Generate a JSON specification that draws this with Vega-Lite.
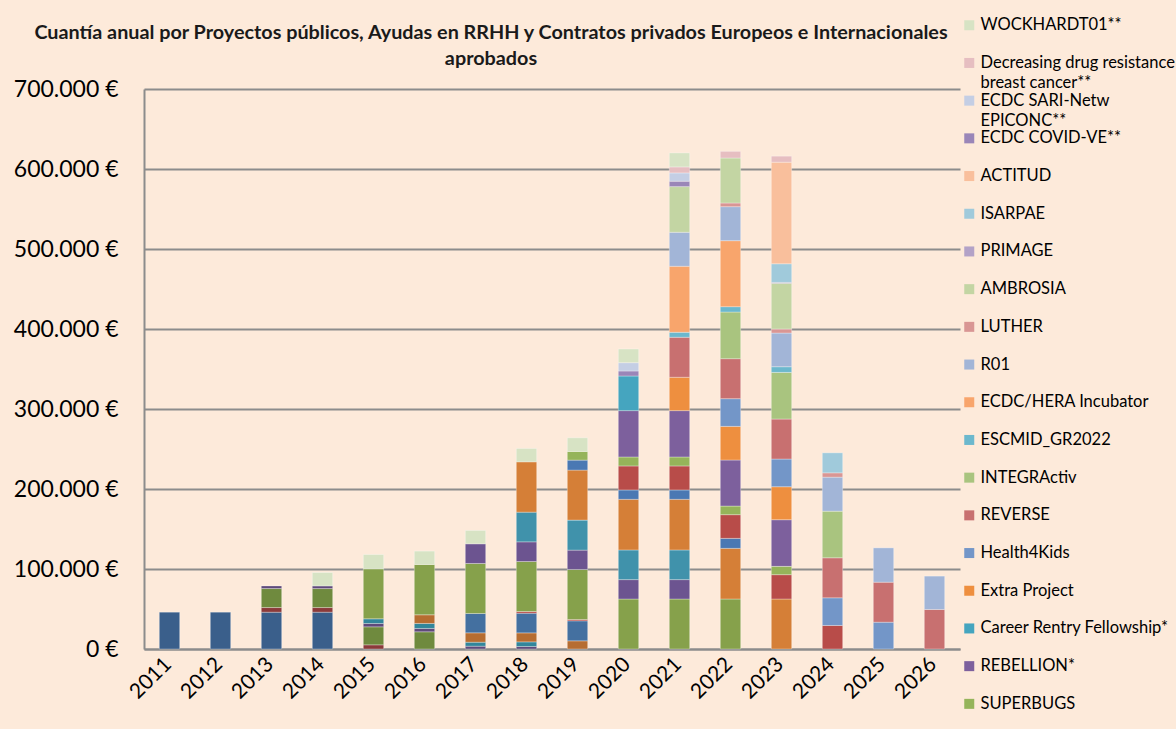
{
  "$schema": "https://vega.github.io/schema/vega-lite/v6.json",
  "width": 816,
  "height": 560,
  "autosize": {"type": "none"},
  "padding": {"left": 144, "top": 89, "right": 216, "bottom": 80},
  "background": "#FDEADA",
  "title": {
    "text": ["Cuantía anual por Proyectos públicos, Ayudas en RRHH y Contratos privados Europeos e Internacionales", "aprobados"],
    "font": "Lato",
    "fontSize": 19.8,
    "fontWeight": "bold",
    "color": "#1a1a1a",
    "anchor": "middle",
    "frame": "group",
    "dx": -61,
    "offset": -52,
    "lineHeight": 26
  },
  "datasets": {
    "proyectos": [
      {"proyecto": "Proyecto 01", "orden": 1},
      {"proyecto": "Proyecto 02", "orden": 2},
      {"proyecto": "Proyecto 03", "orden": 3},
      {"proyecto": "Proyecto 04", "orden": 4},
      {"proyecto": "Proyecto 05", "orden": 5},
      {"proyecto": "Proyecto 06", "orden": 6},
      {"proyecto": "Proyecto 07", "orden": 7},
      {"proyecto": "Proyecto 08", "orden": 8},
      {"proyecto": "Proyecto 09", "orden": 9},
      {"proyecto": "Proyecto 10", "orden": 10},
      {"proyecto": "Proyecto 11", "orden": 11},
      {"proyecto": "Proyecto 12", "orden": 12},
      {"proyecto": "Proyecto 13", "orden": 13},
      {"proyecto": "Proyecto 14", "orden": 14},
      {"proyecto": "SUPERBUGS", "orden": 15},
      {"proyecto": "REBELLION*", "orden": 16},
      {"proyecto": "Career Rentry Fellowship*", "orden": 17},
      {"proyecto": "Extra Project", "orden": 18},
      {"proyecto": "Health4Kids", "orden": 19},
      {"proyecto": "REVERSE", "orden": 20},
      {"proyecto": "INTEGRActiv", "orden": 21},
      {"proyecto": "ESCMID_GR2022", "orden": 22},
      {"proyecto": "ECDC/HERA Incubator", "orden": 23},
      {"proyecto": "R01", "orden": 24},
      {"proyecto": "LUTHER", "orden": 25},
      {"proyecto": "AMBROSIA", "orden": 26},
      {"proyecto": "PRIMAGE", "orden": 27},
      {"proyecto": "ISARPAE", "orden": 28},
      {"proyecto": "ACTITUD", "orden": 29},
      {"proyecto": "ECDC COVID-VE**", "orden": 30},
      {"proyecto": "ECDC SARI-Netw EPICONC**", "orden": 31},
      {"proyecto": "Decreasing drug resistance breast cancer**", "orden": 32},
      {"proyecto": "WOCKHARDT01**", "orden": 33}
    ],
    "importes": [
      {"anio": "2011", "proyecto": "Proyecto 01", "importe": 46000},
      {"anio": "2012", "proyecto": "Proyecto 01", "importe": 46000},
      {"anio": "2013", "proyecto": "Proyecto 01", "importe": 46000},
      {"anio": "2014", "proyecto": "Proyecto 01", "importe": 46000},
      {"anio": "2013", "proyecto": "Proyecto 02", "importe": 5800},
      {"anio": "2014", "proyecto": "Proyecto 02", "importe": 5800},
      {"anio": "2015", "proyecto": "Proyecto 02", "importe": 5200},
      {"anio": "2013", "proyecto": "Proyecto 03", "importe": 23750},
      {"anio": "2014", "proyecto": "Proyecto 03", "importe": 23750},
      {"anio": "2015", "proyecto": "Proyecto 03", "importe": 22500},
      {"anio": "2016", "proyecto": "Proyecto 03", "importe": 21500},
      {"anio": "2013", "proyecto": "Proyecto 04", "importe": 3300},
      {"anio": "2014", "proyecto": "Proyecto 04", "importe": 3300},
      {"anio": "2015", "proyecto": "Proyecto 04", "importe": 4200},
      {"anio": "2016", "proyecto": "Proyecto 04", "importe": 4200},
      {"anio": "2017", "proyecto": "Proyecto 04", "importe": 3500},
      {"anio": "2018", "proyecto": "Proyecto 04", "importe": 3100},
      {"anio": "2015", "proyecto": "Proyecto 05", "importe": 5800},
      {"anio": "2016", "proyecto": "Proyecto 05", "importe": 6250},
      {"anio": "2017", "proyecto": "Proyecto 05", "importe": 5000},
      {"anio": "2018", "proyecto": "Proyecto 05", "importe": 5800},
      {"anio": "2016", "proyecto": "Proyecto 06", "importe": 10800},
      {"anio": "2017", "proyecto": "Proyecto 06", "importe": 11700},
      {"anio": "2018", "proyecto": "Proyecto 06", "importe": 11250},
      {"anio": "2019", "proyecto": "Proyecto 06", "importe": 10200},
      {"anio": "2017", "proyecto": "Proyecto 07", "importe": 24200},
      {"anio": "2018", "proyecto": "Proyecto 07", "importe": 24600},
      {"anio": "2019", "proyecto": "Proyecto 07", "importe": 25000},
      {"anio": "2018", "proyecto": "Proyecto 08", "importe": 2100},
      {"anio": "2019", "proyecto": "Proyecto 08", "importe": 1700},
      {"anio": "2015", "proyecto": "Proyecto 09", "importe": 62500},
      {"anio": "2016", "proyecto": "Proyecto 09", "importe": 62900},
      {"anio": "2017", "proyecto": "Proyecto 09", "importe": 62500},
      {"anio": "2018", "proyecto": "Proyecto 09", "importe": 62500},
      {"anio": "2019", "proyecto": "Proyecto 09", "importe": 62500},
      {"anio": "2020", "proyecto": "Proyecto 09", "importe": 62500},
      {"anio": "2021", "proyecto": "Proyecto 09", "importe": 62500},
      {"anio": "2022", "proyecto": "Proyecto 09", "importe": 62500},
      {"anio": "2017", "proyecto": "Proyecto 10", "importe": 24600},
      {"anio": "2018", "proyecto": "Proyecto 10", "importe": 24600},
      {"anio": "2019", "proyecto": "Proyecto 10", "importe": 24200},
      {"anio": "2020", "proyecto": "Proyecto 10", "importe": 24200},
      {"anio": "2021", "proyecto": "Proyecto 10", "importe": 24200},
      {"anio": "2018", "proyecto": "Proyecto 11", "importe": 37100},
      {"anio": "2019", "proyecto": "Proyecto 11", "importe": 37500},
      {"anio": "2020", "proyecto": "Proyecto 11", "importe": 37100},
      {"anio": "2021", "proyecto": "Proyecto 11", "importe": 37100},
      {"anio": "2018", "proyecto": "Proyecto 12", "importe": 62900},
      {"anio": "2019", "proyecto": "Proyecto 12", "importe": 62500},
      {"anio": "2020", "proyecto": "Proyecto 12", "importe": 63300},
      {"anio": "2021", "proyecto": "Proyecto 12", "importe": 63300},
      {"anio": "2022", "proyecto": "Proyecto 12", "importe": 63300},
      {"anio": "2023", "proyecto": "Proyecto 12", "importe": 62500},
      {"anio": "2019", "proyecto": "Proyecto 13", "importe": 12500},
      {"anio": "2020", "proyecto": "Proyecto 13", "importe": 11700},
      {"anio": "2021", "proyecto": "Proyecto 13", "importe": 11700},
      {"anio": "2022", "proyecto": "Proyecto 13", "importe": 12500},
      {"anio": "2020", "proyecto": "Proyecto 14", "importe": 30000},
      {"anio": "2021", "proyecto": "Proyecto 14", "importe": 30000},
      {"anio": "2022", "proyecto": "Proyecto 14", "importe": 29600},
      {"anio": "2023", "proyecto": "Proyecto 14", "importe": 30400},
      {"anio": "2024", "proyecto": "Proyecto 14", "importe": 29400},
      {"anio": "2019", "proyecto": "SUPERBUGS", "importe": 10800},
      {"anio": "2020", "proyecto": "SUPERBUGS", "importe": 11250},
      {"anio": "2021", "proyecto": "SUPERBUGS", "importe": 11250},
      {"anio": "2022", "proyecto": "SUPERBUGS", "importe": 10800},
      {"anio": "2023", "proyecto": "SUPERBUGS", "importe": 10400},
      {"anio": "2020", "proyecto": "REBELLION*", "importe": 57900},
      {"anio": "2021", "proyecto": "REBELLION*", "importe": 57900},
      {"anio": "2022", "proyecto": "REBELLION*", "importe": 57500},
      {"anio": "2023", "proyecto": "REBELLION*", "importe": 58300},
      {"anio": "2020", "proyecto": "Career Rentry Fellowship*", "importe": 43300},
      {"anio": "2021", "proyecto": "Extra Project", "importe": 41700},
      {"anio": "2022", "proyecto": "Extra Project", "importe": 42100},
      {"anio": "2023", "proyecto": "Extra Project", "importe": 41250},
      {"anio": "2022", "proyecto": "Health4Kids", "importe": 34600},
      {"anio": "2023", "proyecto": "Health4Kids", "importe": 34600},
      {"anio": "2024", "proyecto": "Health4Kids", "importe": 34600},
      {"anio": "2025", "proyecto": "Health4Kids", "importe": 33500},
      {"anio": "2021", "proyecto": "REVERSE", "importe": 50000},
      {"anio": "2022", "proyecto": "REVERSE", "importe": 50000},
      {"anio": "2023", "proyecto": "REVERSE", "importe": 50000},
      {"anio": "2024", "proyecto": "REVERSE", "importe": 50000},
      {"anio": "2025", "proyecto": "REVERSE", "importe": 50000},
      {"anio": "2026", "proyecto": "REVERSE", "importe": 49400},
      {"anio": "2022", "proyecto": "INTEGRActiv", "importe": 58300},
      {"anio": "2023", "proyecto": "INTEGRActiv", "importe": 58300},
      {"anio": "2024", "proyecto": "INTEGRActiv", "importe": 58300},
      {"anio": "2021", "proyecto": "ESCMID_GR2022", "importe": 6250},
      {"anio": "2022", "proyecto": "ESCMID_GR2022", "importe": 6700},
      {"anio": "2023", "proyecto": "ESCMID_GR2022", "importe": 7100},
      {"anio": "2021", "proyecto": "ECDC/HERA Incubator", "importe": 82500},
      {"anio": "2022", "proyecto": "ECDC/HERA Incubator", "importe": 82500},
      {"anio": "2021", "proyecto": "R01", "importe": 42500},
      {"anio": "2022", "proyecto": "R01", "importe": 42500},
      {"anio": "2023", "proyecto": "R01", "importe": 42100},
      {"anio": "2024", "proyecto": "R01", "importe": 42500},
      {"anio": "2025", "proyecto": "R01", "importe": 42900},
      {"anio": "2026", "proyecto": "R01", "importe": 41700},
      {"anio": "2022", "proyecto": "LUTHER", "importe": 4600},
      {"anio": "2023", "proyecto": "LUTHER", "importe": 5000},
      {"anio": "2024", "proyecto": "LUTHER", "importe": 5400},
      {"anio": "2021", "proyecto": "AMBROSIA", "importe": 57100},
      {"anio": "2022", "proyecto": "AMBROSIA", "importe": 56250},
      {"anio": "2023", "proyecto": "AMBROSIA", "importe": 57100},
      {"anio": "2023", "proyecto": "PRIMAGE", "importe": 1200},
      {"anio": "2023", "proyecto": "ISARPAE", "importe": 23300},
      {"anio": "2024", "proyecto": "ISARPAE", "importe": 25000},
      {"anio": "2023", "proyecto": "ACTITUD", "importe": 127000},
      {"anio": "2020", "proyecto": "ECDC COVID-VE**", "importe": 6250},
      {"anio": "2021", "proyecto": "ECDC COVID-VE**", "importe": 6700},
      {"anio": "2020", "proyecto": "ECDC SARI-Netw EPICONC**", "importe": 10400},
      {"anio": "2021", "proyecto": "ECDC SARI-Netw EPICONC**", "importe": 10400},
      {"anio": "2021", "proyecto": "Decreasing drug resistance breast cancer**", "importe": 7500},
      {"anio": "2022", "proyecto": "Decreasing drug resistance breast cancer**", "importe": 8300},
      {"anio": "2023", "proyecto": "Decreasing drug resistance breast cancer**", "importe": 7500},
      {"anio": "2014", "proyecto": "WOCKHARDT01**", "importe": 16700},
      {"anio": "2015", "proyecto": "WOCKHARDT01**", "importe": 17900},
      {"anio": "2016", "proyecto": "WOCKHARDT01**", "importe": 16700},
      {"anio": "2017", "proyecto": "WOCKHARDT01**", "importe": 16700},
      {"anio": "2018", "proyecto": "WOCKHARDT01**", "importe": 16700},
      {"anio": "2019", "proyecto": "WOCKHARDT01**", "importe": 17100},
      {"anio": "2020", "proyecto": "WOCKHARDT01**", "importe": 17100},
      {"anio": "2021", "proyecto": "WOCKHARDT01**", "importe": 17500}
    ]
  },
  "data": {"name": "importes"},
  "transform": [
    {"lookup": "proyecto", "from": {"data": {"name": "proyectos"}, "key": "proyecto", "fields": ["orden"]}}
  ],
  "mark": {"type": "bar", "stroke": "#ffffff", "strokeOpacity": 0.3, "strokeWidth": 1},
  "encoding": {
    "x": {
      "field": "anio",
      "type": "ordinal",
      "scale": {"domain": ["2011","2012","2013","2014","2015","2016","2017","2018","2019","2020","2021","2022","2023","2024","2025","2026"], "paddingInner": 0.6, "paddingOuter": 0.3},
      "axis": {
        "title": null,
        "labelAngle": -45,
        "labelFont": "Lato",
        "labelFontSize": 21,
        "labelColor": "#000000",
        "labelPadding": 4,
        "labelOffset": -9,
        "domainColor": "#8c8c8c",
        "domainWidth": 2,
        "ticks": false,
        "grid": false
      }
    },
    "y": {
      "field": "importe",
      "type": "quantitative",
      "stack": "zero",
      "scale": {"domain": [0, 700000], "nice": false},
      "axis": {
        "title": null,
        "values": [0, 100000, 200000, 300000, 400000, 500000, 600000, 700000],
        "labelExpr": "replace(format(datum.value, ',d'), ',', '.') + ' €'",
        "labelFont": "Lato",
        "labelFontSize": 23,
        "labelColor": "#000000",
        "labelPadding": 26,
        "ticks": false,
        "domainColor": "#8c8c8c",
        "domainWidth": 2,
        "grid": true,
        "gridColor": "#8c8c8c",
        "gridWidth": 2
      }
    },
    "color": {
      "field": "proyecto",
      "type": "nominal",
      "scale": {
        "domain": ["Proyecto 01","Proyecto 02","Proyecto 03","Proyecto 04","Proyecto 05","Proyecto 06","Proyecto 07","Proyecto 08","Proyecto 09","Proyecto 10","Proyecto 11","Proyecto 12","Proyecto 13","Proyecto 14","SUPERBUGS","REBELLION*","Career Rentry Fellowship*","Extra Project","Health4Kids","REVERSE","INTEGRActiv","ESCMID_GR2022","ECDC/HERA Incubator","R01","LUTHER","AMBROSIA","PRIMAGE","ISARPAE","ACTITUD","ECDC COVID-VE**","ECDC SARI-Netw EPICONC**","Decreasing drug resistance breast cancer**","WOCKHARDT01**"],
        "range": ["#3A5F8B","#8B3A3A","#6F8A3E","#5F4A7B","#31869B","#B66D31","#4470A0","#B94A48","#86A14B","#6C5490","#4092AB","#D57F37","#4A78B3","#B84C49","#95B45A","#7D609D","#45A5BF","#EE8F3F","#7396C8","#C87070","#A9C47F","#6CB8CD","#F8A56C","#A2B5D7","#D99694","#C3D5A3","#B3A2C7","#A0CADB","#F9BF9C","#9A86B8","#C4CEE4","#E6BEC1","#D7E3C4"]
      },
      "legend": {
        "title": null,
        "orient": "none",
        "legendX": 817,
        "legendY": -72,
        "padding": 0,
        "values": ["WOCKHARDT01**","Decreasing drug resistance breast cancer**","ECDC SARI-Netw EPICONC**","ECDC COVID-VE**","ACTITUD","ISARPAE","PRIMAGE","AMBROSIA","LUTHER","R01","ECDC/HERA Incubator","ESCMID_GR2022","INTEGRActiv","REVERSE","Health4Kids","Extra Project","Career Rentry Fellowship*","REBELLION*","SUPERBUGS"],
        "symbolType": "square",
        "symbolSize": 100,
        "symbolStrokeWidth": 0,
        "symbolOpacity": 1,
        "labelFont": "Lato",
        "labelFontSize": 16.5,
        "labelColor": "#000000",
        "labelLimit": 300,
        "labelOffset": 3,
        "rowPadding": 0.7,
        "gridAlign": "all",
        "labelExpr": "datum.label == 'Decreasing drug resistance breast cancer**' ? ['Decreasing drug resistance', 'breast cancer**'] : datum.label == 'ECDC SARI-Netw EPICONC**' ? ['ECDC SARI-Netw', 'EPICONC**'] : datum.label",
        "encode": {
          "labels": {
            "update": {
              "dy": {"signal": "datum.value == 'Decreasing drug resistance breast cancer**' || datum.value == 'ECDC SARI-Netw EPICONC**' ? 10 : 0"}
            }
          }
        }
      }
    },
    "order": {"field": "orden", "type": "quantitative", "sort": "ascending"}
  },
  "config": {
    "view": {"stroke": null},
    "style": {"guide-label": {"lineHeight": 20}}
  }
}
